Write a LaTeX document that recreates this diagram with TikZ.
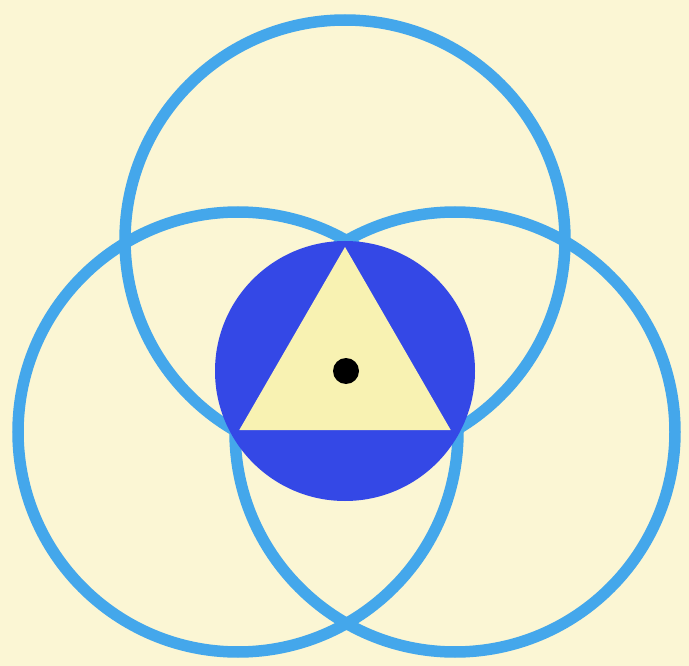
\documentclass[tikz,border=0pt]{standalone}
\definecolor{bg}{HTML}{FBF6D4}
\definecolor{ring}{HTML}{44A7EB}
\definecolor{deep}{HTML}{3448E6}
\definecolor{tri}{HTML}{F8F2B2}
\begin{document}
\begin{tikzpicture}[x=1pt,y=-1pt,
  ringstyle/.style={draw=ring,line width=11.5pt}]
\fill[bg] (0,0) rectangle (689,666);
\useasboundingbox (0,0) rectangle (689,666);
\coordinate (O) at (345,371);
\coordinate (T) at (345,240);
\coordinate (L) at (238,432);
\coordinate (R) at (455,432);
\draw[ringstyle] (T) circle[radius=220];
\draw[ringstyle] (L) circle[radius=220];
\draw[ringstyle] (R) circle[radius=220];
\fill[deep] (O) circle[radius=130];
\fill[tri] (345,247) -- (239.3,430) -- (450.7,430) -- cycle;
\fill[black] (346,371) circle[radius=13];
\end{tikzpicture}
\end{document}
